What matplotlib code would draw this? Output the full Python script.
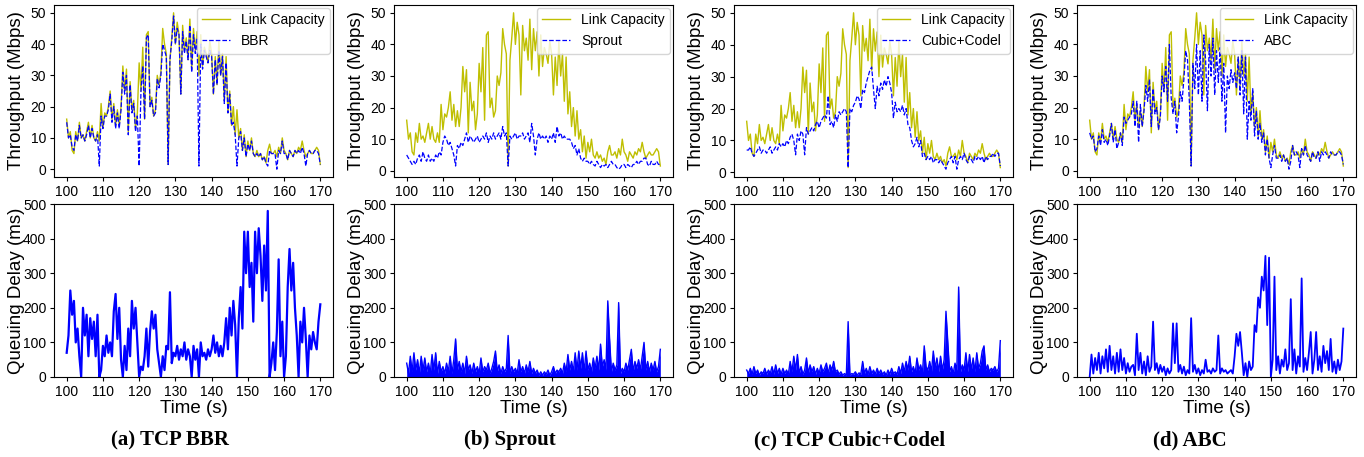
import numpy as np
import matplotlib
matplotlib.use("Agg")
import matplotlib.pyplot as plt

plt.rcParams['font.family'] = ['Liberation Sans', 'DejaVu Sans']

# time axis, one sample every 0.5 s
time = np.arange(100, 170.5, 0.5)

# link capacity (Mbps), same trace for every scheme
capacity = [
    16, 10, 12, 6, 5, 12, 9, 15, 10, 11,
    9, 12, 15, 10, 14, 10, 9, 12, 9, 21,
    13, 18, 17, 20, 25, 16, 21, 14, 19, 14,
    20, 33, 25, 32, 12, 28, 19, 22, 13, 18,
    34, 25, 39, 16, 43, 44, 20, 23, 17, 19,
    30, 27, 31, 45, 40, 37, 1.5, 35, 42, 50,
    40, 47, 43, 24, 46, 38, 42, 35, 48, 32,
    45, 38, 44, 30, 43, 33, 39, 37, 34, 41,
    37, 24, 36, 27, 41, 30, 37, 22, 36, 18,
    25, 14, 20, 11, 19, 10, 13, 6, 11, 4,
    9, 6, 10, 5, 4, 6, 4, 5, 3, 4,
    2, 6, 8, 5, 5, 6, 4, 7, 5, 10,
    6, 5, 3, 6, 5, 4, 6, 5, 7, 6,
    9, 6, 4, 5, 6, 5, 5, 6, 7, 6,
    1.5]

schemes = ["BBR", "Sprout", "Cubic+Codel", "ABC"]
captions = ["(a) TCP BBR", "(b) Sprout", "(c) TCP Cubic+Codel", "(d) ABC"]

tput_bbr = [
    15, 10, 11, 7, 6, 11, 9, 14, 10, 11,
    9, 11, 14, 10, 13, 10, 9, 11, 1, 17,
    13, 17, 17, 19, 24, 15, 20, 13, 18, 13,
    19, 31, 24, 30, 11, 27, 18, 21, 12, 17,
    1, 25, 33, 16, 42, 43, 20, 22, 17, 18,
    29, 26, 30, 40, 38, 36, 1.5, 35, 41, 49,
    40, 45, 43, 24, 44, 37, 41, 35, 46, 31,
    43, 37, 42, 1, 40, 32, 38, 36, 34, 38,
    36, 24, 35, 27, 38, 30, 36, 21, 34, 18,
    24, 14, 15, 11, 1, 10, 12, 6, 10, 4,
    8, 6, 9, 5, 4, 5, 4, 5, 3, 4,
    2, 1, 6, 5, 5, 5, 0, 6, 5, 9,
    5, 5, 3, 6, 5, 4, 6, 5, 6, 5,
    7, 5, 1, 5, 6, 5, 5, 6, 6, 5,
    1.5]

tput_sprout = [
    5, 4, 3, 2, 3, 2, 4, 5, 3, 6,
    4, 3, 5, 3, 4, 3, 5, 4, 6, 5,
    9, 11, 10, 8, 9, 7, 5, 1.5, 8, 7,
    9, 8, 10, 12, 9, 11, 10, 9, 10, 11,
    9, 10, 11, 10, 12, 9, 11, 10, 12, 10,
    11, 12, 10, 14, 11, 12, 1.5, 11, 10, 11,
    12, 10, 11, 11, 12, 10, 11, 12, 9, 15,
    11, 5, 10, 12, 10, 11, 10, 11, 9, 11,
    10, 12, 9, 14, 11, 12, 10, 11, 10, 10,
    10, 9, 7, 8, 5, 7, 4, 3, 4, 3,
    3, 2, 3, 2, 1.5, 3, 2, 1, 2, 1.5,
    2, 1, 2, 3, 2, 2, 1, 0.5, 1, 2,
    2, 1, 2, 1.5, 1, 2, 2, 3, 2, 3,
    3, 4, 4, 2, 1.5, 3, 2, 2, 3, 2,
    2]

tput_cubic = [
    7, 7, 8, 6, 5, 6, 7, 8, 6, 7,
    7, 6, 7, 8, 6, 7, 8, 7, 9, 8,
    9, 8, 10, 9, 11, 12, 10, 5.5, 12, 10,
    13, 12, 5.5, 14, 12, 13, 14, 13, 15, 16,
    14, 16, 17, 18, 17, 24, 15, 16, 14, 18,
    16, 19, 18, 19, 20, 19, 1.5, 20, 19, 21,
    22, 24, 23, 20, 26, 25, 28, 30, 32, 33,
    26, 20, 27, 24, 28, 26, 29, 27, 30, 28,
    25, 17, 22, 19, 20, 19, 21, 18, 20, 15,
    14, 10, 8, 9, 11, 8, 10, 5, 6, 4,
    5, 4, 5, 3, 4, 4, 3, 4, 3, 2,
    1, 3, 4, 5, 3, 5, 1, 4, 5, 4,
    6, 4, 3, 5, 4, 3, 5, 4, 5, 4,
    5, 3, 5, 4, 5, 5, 6, 5, 6, 6,
    2]

tput_abc = [
    12, 10, 11, 6, 7, 11, 8, 13, 9, 10,
    8, 11, 15, 9, 13, 7, 9, 12, 8, 17,
    15, 16, 17, 18, 22, 14, 22, 9, 21, 14,
    19, 27, 22, 29, 14, 26, 18, 20, 13, 17,
    30, 25, 33, 22, 40, 23, 18, 22, 12, 17,
    25, 22, 29, 38, 35, 22, 1.5, 34, 26, 40,
    24, 38, 22, 43, 35, 19, 40, 30, 42, 24,
    38, 28, 39, 22, 34, 12, 30, 26, 32, 28,
    31, 26, 36, 24, 38, 18, 36, 10, 22, 16,
    26, 11, 19, 10, 15, 9, 12, 5, 10, 4,
    1, 5, 8, 4, 4, 5, 3, 5, 3, 4,
    0.5, 3, 8, 5, 6, 5, 1, 7, 5, 8,
    5, 4, 3, 6, 4, 4, 6, 3, 6, 5,
    6, 5, 4, 6, 5, 5, 5, 6, 6, 5,
    2]

# queuing delay (ms)
delay_bbr = [
    70, 120, 250, 180, 220, 100, 140, 60, 0, 200,
    120, 180, 60, 170, 110, 160, 60, 180, 0, 20,
    90, 60, 120, 70, 100, 60, 190, 240, 110, 200,
    50, 0, 90, 20, 140, 60, 220, 140, 200, 100,
    0, 30, 20, 60, 140, 30, 130, 190, 140, 180,
    80, 40, 0, 60, 20, 90, 80, 245, 40, 70,
    60, 90, 50, 80, 60, 100, 50, 80, 60, 0,
    90, 50, 80, 0, 100, 60, 70, 50, 80, 60,
    80, 120, 70, 100, 60, 90, 60, 100, 170, 80,
    200, 120, 220, 150, 0, 170, 260, 140, 420, 300,
    420, 260, 330, 160, 420, 300, 430, 350, 220, 380,
    250, 480, 0, 40, 100, 20, 130, 340, 60, 160,
    0, 60, 260, 370, 250, 330, 200, 120, 0, 160,
    100, 200, 110, 0, 120, 80, 130, 100, 80, 160,
    210]

delay_sprout = [
    40, 10, 60, 15, 70, 20, 50, 10, 60, 20,
    55, 15, 40, 10, 65, 20, 70, 10, 45, 15,
    30, 10, 40, 15, 60, 10, 50, 110, 20, 45,
    15, 40, 10, 60, 20, 35, 10, 40, 15, 30,
    10, 55, 15, 30, 20, 40, 10, 25, 45, 75,
    15, 35, 10, 30, 15, 25, 120, 10, 30, 15,
    25, 10, 50, 15, 30, 10, 35, 15, 45, 10,
    25, 10, 20, 5, 15, 5, 15, 8, 20, 5,
    15, 30, 10, 20, 15, 25, 10, 40, 15, 65,
    20, 45, 15, 70, 20, 75, 25, 70, 15, 75,
    20, 40, 15, 55, 25, 60, 20, 95, 30, 50,
    20, 220, 110, 15, 40, 20, 35, 215, 10, 25,
    15, 40, 20, 50, 80, 15, 45, 25, 50, 20,
    60, 100, 20, 45, 15, 40, 20, 45, 15, 30,
    80]

delay_cubic = [
    20, 10, 25, 8, 30, 10, 20, 5, 15, 10,
    25, 8, 20, 10, 30, 8, 35, 10, 25, 8,
    25, 10, 20, 8, 45, 15, 60, 20, 65, 10,
    30, 8, 20, 55, 10, 35, 15, 30, 8, 25,
    10, 35, 15, 25, 40, 10, 35, 20, 45, 15,
    20, 8, 15, 5, 10, 5, 160, 5, 10, 8,
    15, 5, 12, 8, 45, 10, 25, 8, 30, 10,
    20, 8, 25, 10, 20, 8, 15, 5, 20, 8,
    25, 10, 15, 8, 30, 10, 40, 15, 45, 20,
    60, 15, 30, 10, 55, 20, 35, 10, 90, 30,
    20, 45, 15, 75, 25, 55, 15, 60, 20, 50,
    190, 100, 15, 30, 10, 40, 20, 260, 15, 35,
    20, 70, 15, 65, 20, 55, 15, 70, 25, 40,
    75, 90, 20, 35, 15, 25, 20, 30, 15, 25,
    105]

delay_abc = [
    0, 65, 10, 55, 20, 70, 10, 60, 25, 80,
    15, 90, 20, 60, 10, 70, 15, 80, 20, 55,
    10, 40, 15, 30, 35, 5, 125, 20, 70, 10,
    45, 5, 60, 15, 30, 160, 20, 40, 10, 35,
    15, 30, 5, 25, 10, 20, 155, 40, 155, 15,
    35, 10, 30, 5, 20, 10, 170, 15, 35, 10,
    25, 5, 20, 10, 50, 15, 20, 10, 25, 15,
    20, 120, 10, 25, 15, 20, 10, 15, 20, 10,
    60, 125, 90, 130, 70, 5, 40, 0, 45, 20,
    30, 150, 130, 230, 200, 290, 250, 350, 150, 345,
    0, 50, 290, 20, 60, 10, 50, 30, 80, 20,
    40, 225, 20, 80, 10, 60, 30, 285, 15, 55,
    20, 70, 130, 10, 50, 130, 20, 60, 15, 90,
    40, 75, 20, 110, 15, 45, 10, 50, 20, 45,
    140]

tputs = [tput_bbr, tput_sprout, tput_cubic, tput_abc]
delays = [delay_bbr, delay_sprout, delay_cubic, delay_abc]

fig = plt.figure(figsize=(13.64, 4.57), dpi=100)
W, H = 1364, 457
lefts = [54, 394, 734, 1077]
aw = 279

for i in range(4):
    ax1 = fig.add_axes([lefts[i] / W, 280 / H, aw / W, 172 / H])
    ax1.plot(time, capacity, color='y', lw=1.0, label='Link Capacity')
    ax1.plot(time, tputs[i], 'b--', lw=0.9, label=schemes[i])
    ax1.set_ylabel('Throughput (Mbps)', fontsize=13.5)
    ax1.yaxis.set_label_coords(-0.105, 0.5)
    ax1.set_xticks(range(100, 171, 10))
    ax1.set_yticks(range(0, 51, 10))
    ax1.tick_params(labelsize=10, length=3, pad=2.5)
    ax1.legend(loc='upper right', fontsize=10, borderaxespad=0.2)

    ax2 = fig.add_axes([lefts[i] / W, 80 / H, aw / W, 173 / H])
    if i == 0:
        ax2.plot(time, delays[i], color='b', lw=1.6)
    elif i == 3:
        ax2.plot(time, delays[i], color='b', lw=1.3)
    else:
        ax2.plot(time, delays[i], color='b', lw=1.0)
        ax2.fill_between(time, delays[i], color='b', lw=0)
    ax2.set_ylim(0, 500)
    ax2.set_xticks(range(100, 171, 10))
    ax2.set_yticks(range(0, 501, 100))
    ax2.tick_params(labelsize=10, length=3, pad=2.5)
    ax2.set_ylabel('Queuing Delay (ms)', fontsize=13.5)
    ax2.yaxis.set_label_coords(-0.105, 0.5)
    ax2.set_xlabel('Time (s)', fontsize=13.5, labelpad=1)

    fig.text((170 + 340 * i) / W, 17 / H, captions[i], ha='center', va='center',
             fontsize=15, fontweight='bold', family='Liberation Serif')

fig.savefig('out.png', dpi=100)
